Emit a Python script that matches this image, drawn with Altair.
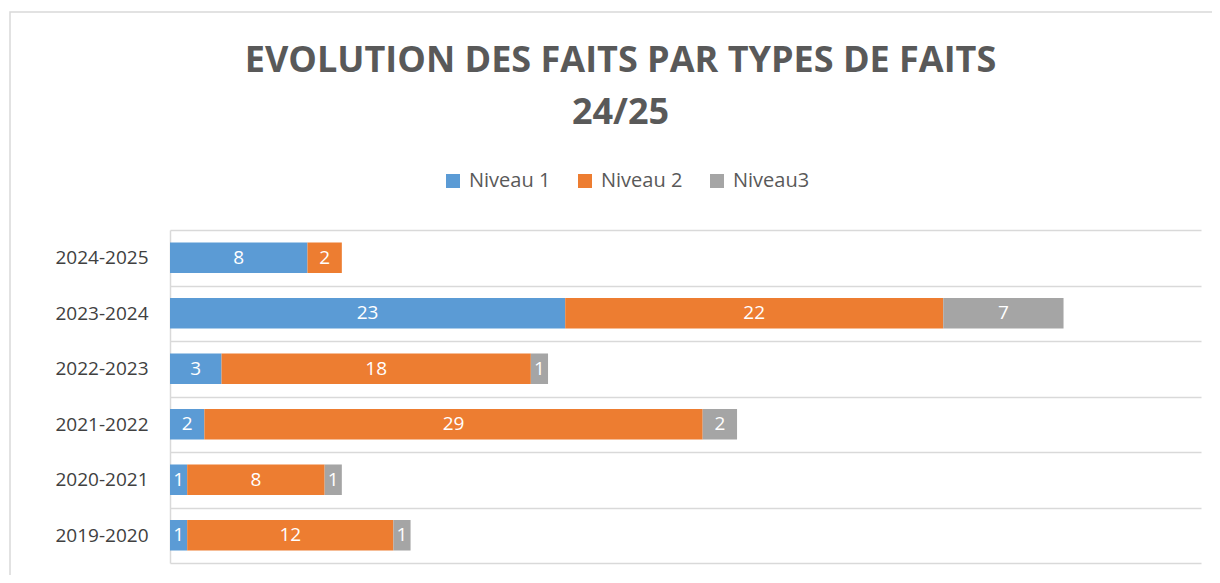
import altair as alt
import pandas as pd

categories = ["2024-2025", "2023-2024", "2022-2023", "2021-2022", "2020-2021", "2019-2020"]
niveau1 = [8, 23, 3, 2, 1, 1]
niveau2 = [2, 22, 18, 29, 8, 12]
niveau3 = [0, 7, 1, 2, 1, 1]
series = ["Niveau 1", "Niveau 2", "Niveau3"]
colors = ["#5B9BD5", "#ED7D31", "#A5A5A5"]

rows = []
for i, c in enumerate(categories):
    for k, (s, vals) in enumerate(zip(series, [niveau1, niveau2, niveau3])):
        if vals[i] > 0:
            rows.append({"annee": c, "niveau": s, "ordre": k, "valeur": vals[i]})
df = pd.DataFrame(rows)

FONT = "Open Sans"

base = alt.Chart(df).transform_stack(
    stack="valeur", groupby=["annee"], as_=["v0", "v1"],
    sort=[alt.SortField("ordre", order="ascending")]
).transform_calculate(mid="(datum.v0 + datum.v1) / 2")

yenc = alt.Y("annee:N", sort=categories, title=None,
             scale=alt.Scale(paddingInner=0, paddingOuter=0),
             axis=alt.Axis(ticks=False, tickBand="extent", grid=True,
                           gridColor="#D9D9D9", gridWidth=1.5,
                           domain=True, domainColor="#D9D9D9", domainWidth=1.5,
                           labelFont=FONT, labelFontSize=19, labelColor="#404040",
                           labelPadding=22))

bars = base.mark_bar(height={"band": 0.55}).encode(
    y=yenc,
    x=alt.X("v0:Q", scale=alt.Scale(domain=[0, 60]), axis=None),
    x2="v1:Q",
    color=alt.Color("niveau:N", scale=alt.Scale(domain=series, range=colors),
                    legend=alt.Legend(title=None, orient="none", direction="horizontal",
                                      legendX=273, legendY=-59,
                                      symbolType="square", symbolSize=196,
                                      symbolStrokeWidth=0, labelFont=FONT,
                                      labelFontSize=20, labelColor="#595959",
                                      columnPadding=24, labelOffset=6)),
)

labels = base.mark_text(color="white", font=FONT, fontSize=19).encode(
    y=alt.Y("annee:N", sort=categories),
    x=alt.X("mid:Q"),
    text=alt.Text("valeur:Q"),
)

border = alt.Chart(alt.InlineData(values=[{"a": 1}])).mark_rect(
    fill="transparent", stroke="#D9D9D9", strokeWidth=1.5
).encode(
    x=alt.value(-160), y=alt.value(-218), x2=alt.value(1200), y2=alt.value(500)
)

chart = alt.layer(border, bars, labels).properties(
    width=1031, height=333,
    title=alt.TitleParams(["EVOLUTION DES FAITS PAR TYPES DE FAITS", "24/25"],
                          font=FONT, fontSize=36, fontWeight="bold", color="#595959",
                          anchor="middle", frame="group", dx=-65, dy=121, offset=0,
                          lineHeight=52),
    autosize=alt.AutoSizeParams(type="none"),
    padding={"left": 162, "top": 222, "right": 11, "bottom": 12},
).configure_view(stroke=None)

chart.save("out.html", embed_options={"renderer": "svg", "actions": False})
